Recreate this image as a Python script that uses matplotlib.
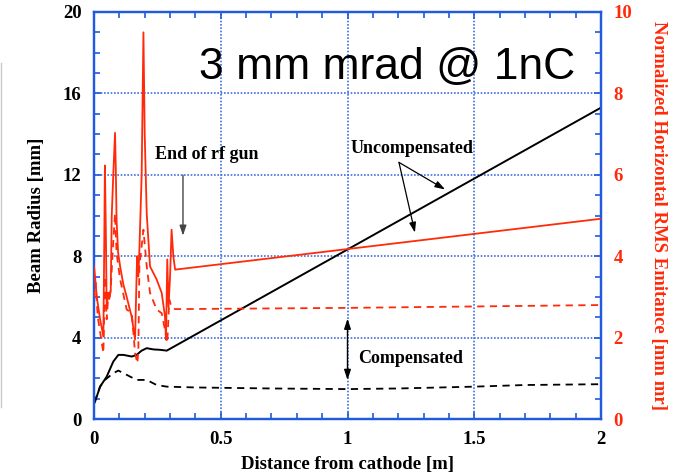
import matplotlib
matplotlib.use("Agg")
import matplotlib.pyplot as plt
from matplotlib.ticker import MultipleLocator, FormatStrFormatter
from matplotlib.lines import Line2D

# ---------------- data ----------------
# Beam radius [mm], uncompensated (black solid)
x_rad_unc = [0.0, 0.004, 0.024, 0.050, 0.076, 0.096, 0.116, 0.149, 0.168, 0.188,
             0.208, 0.234, 0.260, 0.287, 2.0]
y_rad_unc = [0.75, 0.85, 1.59, 2.08, 2.82, 3.15, 3.15, 3.07, 3.15, 3.36,
             3.48, 3.42, 3.40, 3.36, 15.3]

# Beam radius [mm], compensated (black dashed)
x_rad_comp = [0.0, 0.004, 0.024, 0.043, 0.076, 0.096, 0.129, 0.168, 0.208, 0.247,
              0.287, 0.4, 0.7, 1.0, 1.2, 1.5, 1.7, 2.0]
y_rad_comp = [0.8, 0.9, 1.59, 1.92, 2.25, 2.38, 2.17, 1.92, 1.92, 1.67,
              1.59, 1.55, 1.50, 1.47, 1.50, 1.59, 1.67, 1.71]

# Normalized emittance [mm mr], uncompensated (red solid)
x_emit_unc = [0.000, 0.004, 0.011, 0.024, 0.037, 0.040, 0.043, 0.047, 0.050, 0.055,
              0.060, 0.066, 0.070, 0.076, 0.083, 0.086, 0.089, 0.095, 0.103, 0.116,
              0.129, 0.149, 0.162, 0.166, 0.170, 0.175, 0.179, 0.188, 0.195, 0.200,
              0.208, 0.221, 0.247, 0.267, 0.280, 0.284, 0.289, 0.294, 0.300, 0.306,
              0.313, 0.320, 2.0]
y_emit_unc = [3.75, 3.50, 3.00, 2.45, 2.03, 4.00, 6.23, 4.50, 2.70, 3.10,
              2.95, 3.15, 5.00, 6.00, 7.03, 6.15, 4.90, 4.10, 3.75, 3.30,
              3.00, 2.50, 1.95, 3.00, 4.00, 3.50, 4.15, 6.00, 9.50, 7.00,
              5.05, 3.75, 3.43, 3.10, 2.52, 1.95, 3.92, 2.75, 3.50, 4.65,
              4.00, 3.67, 4.92]

# Normalized emittance [mm mr], compensated (red dashed)
x_emit_comp = [0.000, 0.006, 0.015, 0.030, 0.037, 0.043, 0.050, 0.057, 0.060, 0.066,
               0.075, 0.083, 0.089, 0.103, 0.129, 0.149, 0.162, 0.171, 0.175, 0.179,
               0.188, 0.195, 0.208, 0.221, 0.247, 0.267, 0.280, 0.289, 0.297, 0.306,
               0.320, 1.0, 2.0]
y_emit_comp = [3.00, 3.35, 2.50, 1.90, 1.62, 3.50, 2.45, 3.10, 2.93, 3.20,
               4.25, 5.05, 4.08, 3.43, 2.69, 2.60, 1.62, 1.37, 1.70, 3.75,
               4.25, 4.65, 3.75, 3.10, 2.69, 2.60, 2.19, 1.87, 2.93, 2.75,
               2.70, 2.73, 2.80]

x_ticks = [0, 0.5, 1, 1.5, 2]
y_left_ticks = [0, 4, 8, 12, 16, 20]
y_right_ticks = [0, 2, 4, 6, 8, 10]

# ---------------- style ----------------
BLUE = "#1f5ae0"
GRID = "#3f6fe0"
RED = "#ff2a0a"
SERIF = ["Liberation Serif", "DejaVu Serif"]
SANS = ["Liberation Sans", "DejaVu Sans"]

fig = plt.figure(figsize=(6.84, 4.76), dpi=100)
ax = fig.add_axes([94 / 684, 1 - 419 / 476, 507 / 684, 407 / 476])
ax2 = ax.twinx()

ax.plot(x_rad_unc, y_rad_unc, color="black", lw=1.4, zorder=3)
ax.plot(x_rad_comp, y_rad_comp, color="black", lw=1.3, ls=(0, (4, 3)), zorder=3)
ax2.plot(x_emit_unc, y_emit_unc, color=RED, lw=1.3, zorder=3)
ax2.plot(x_emit_comp, y_emit_comp, color=RED, lw=1.3, ls=(0, (4, 3)), zorder=3)

ax.set_xlim(0, 2)
ax.set_ylim(0, 20)
ax2.set_ylim(0, 10)

ax.set_xticks(x_ticks)
ax.set_yticks(y_left_ticks)
ax2.set_yticks(y_right_ticks)
ax.xaxis.set_minor_locator(MultipleLocator(0.1))
ax.yaxis.set_minor_locator(MultipleLocator(1))
ax2.yaxis.set_minor_locator(MultipleLocator(0.5))
ax.xaxis.set_major_formatter(FormatStrFormatter("%g"))
ax.yaxis.set_major_formatter(FormatStrFormatter("%g"))
ax2.yaxis.set_major_formatter(FormatStrFormatter("%g"))

ax.grid(True, which="major", color=GRID, ls=(0, (1, 1)), lw=1.2)

for a in (ax, ax2):
    for s in a.spines.values():
        s.set_color(BLUE)
        s.set_linewidth(1.6)

ax.tick_params(which="both", direction="in", color=BLUE, top=True, right=False)
ax.tick_params(which="major", length=5, width=1.2, pad=9)
ax.tick_params(which="minor", length=4, width=1.2)
ax2.tick_params(which="both", direction="in", color=BLUE, labelcolor=RED)
ax2.tick_params(which="major", length=5, width=1.2, pad=9)
ax2.tick_params(which="minor", length=4, width=1.2)

for lbl in ax.get_xticklabels() + ax.get_yticklabels():
    lbl.set_fontfamily(SERIF)
    lbl.set_fontweight("bold")
    lbl.set_fontsize(13.5)
for lbl in ax2.get_yticklabels():
    lbl.set_fontfamily(SERIF)
    lbl.set_fontweight("bold")
    lbl.set_fontsize(13.5)
    lbl.set_color(RED)

ax.set_xlabel("Distance from cathode [m]", family=SERIF, weight="bold", fontsize=13.5)
ax.set_ylabel("Beam Radius [mm]", family=SERIF, weight="bold", fontsize=13.5)
ax2.set_ylabel("Normalized Horizontal RMS Emitance [mm mr]", family=SERIF,
               weight="bold", fontsize=13.5, color=RED, rotation=270)
ax.xaxis.set_label_coords(0.5, -0.092)
ax.yaxis.set_label_coords(-0.097, 0.5)
ax2.yaxis.set_label_coords(1.13, 0.5)

# Title-like text
ax.text(1.158, 16.7, "3 mm mrad @ 1nC", family=SANS, fontsize=32,
        ha="center", va="baseline", color="black", zorder=5)

# Annotations
ax.text(0.446, 13.0, "End of rf gun", family=SERIF, weight="bold", fontsize=13,
        ha="center", va="center", zorder=5)
ax.annotate("", xy=(0.351, 8.87), xytext=(0.351, 12.12),
            arrowprops=dict(arrowstyle="-|>,head_length=0.6,head_width=0.2",
                            color="#444444", lw=1.0), zorder=5)

ax.text(1.254, 13.3, "Uncompensated", family=SERIF, weight="bold", fontsize=13,
        ha="center", va="center", zorder=5)
ax.annotate("", xy=(1.385, 11.28), xytext=(1.203, 12.61),
            arrowprops=dict(arrowstyle="-|>,head_length=0.6,head_width=0.2",
                            color="black", lw=0.9, shrinkA=0, shrinkB=0), zorder=5)
ax.annotate("", xy=(1.266, 9.16), xytext=(1.203, 12.61),
            arrowprops=dict(arrowstyle="-|>,head_length=0.6,head_width=0.2",
                            color="black", lw=0.9, shrinkA=0, shrinkB=0), zorder=5)

ax.text(1.25, 2.96, "Compensated", family=SERIF, weight="bold", fontsize=13,
        ha="center", va="center", zorder=5)
ax.annotate("", xy=(1.0, 1.92), xytext=(1.0, 4.93),
            arrowprops=dict(arrowstyle="<|-|>,head_length=0.6,head_width=0.2",
                            color="black", lw=1.0, shrinkA=0, shrinkB=0), zorder=5)

# faint slide border at the far left
fig.add_artist(Line2D([0.001, 0.001], [1 - 407 / 476, 1 - 63 / 476],
                      transform=fig.transFigure, color="#c8c8c8", lw=1.0))

fig.savefig("out.png", dpi=100)
